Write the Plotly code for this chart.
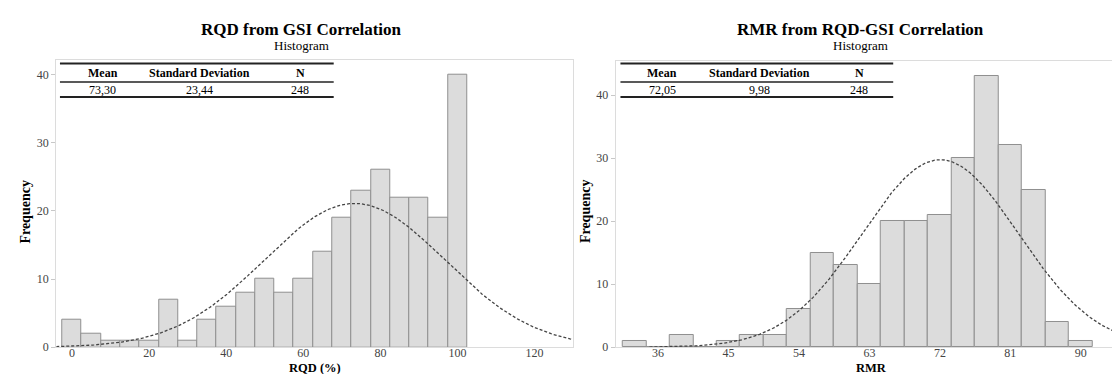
import math
import plotly.graph_objects as go

# ---------------- data ----------------
rqd_bin_centers = [0, 5, 10, 15, 20, 25, 30, 35, 40, 45, 50, 55, 60, 65, 70, 75, 80, 85, 90, 95, 100]
rqd_counts = [4, 2, 1, 1, 1, 7, 1, 4, 6, 8, 10, 8, 10, 14, 19, 23, 26, 22, 22, 19, 40]
rqd_bin_width = 5
rqd_mean, rqd_sd, rqd_n = 73.30, 23.44, 248
rqd_xticks = [0, 20, 40, 60, 80, 100, 120]

rmr_bin_centers = [33, 36, 39, 42, 45, 48, 51, 54, 57, 60, 63, 66, 69, 72, 75, 78, 81, 84, 87, 90]
rmr_counts = [1, 0, 2, 0, 1, 2, 2, 6, 15, 13, 10, 20, 20, 21, 30, 43, 32, 25, 4, 1]
rmr_bin_width = 3
rmr_mean, rmr_sd, rmr_n = 72.05, 9.98, 248
rmr_xticks = [36, 45, 54, 63, 72, 81, 90]

y_ticks = [0, 10, 20, 30, 40]

titles = ["RQD from GSI Correlation", "RMR from RQD-GSI Correlation"]
subtitle = "Histogram"
x_titles = ["RQD (%)", "RMR"]
y_title = "Frequency"
table_headers = ["Mean", "Standard Deviation", "N"]
rqd_table = ["73,30", "23,44", "248"]
rmr_table = ["72,05", "9,98", "248"]

# ---------------- layout helpers ----------------
W, H = 1120, 374
def px(x):
    return x / W
def py(y):
    return 1 - y / H

SERIF = "Liberation Serif, Times New Roman, serif"

def normal_curve(mean, sd, n, bw, x0, x1, steps=300):
    xs, ys = [], []
    for i in range(steps + 1):
        x = x0 + (x1 - x0) * i / steps
        xs.append(x)
        ys.append(n * bw / (sd * math.sqrt(2 * math.pi)) * math.exp(-0.5 * ((x - mean) / sd) ** 2))
    return xs, ys

fig = go.Figure()

bar_style = dict(marker=dict(color="#dcdcdc", line=dict(color="#8f8f8f", width=1)), showlegend=False, hoverinfo="x+y")
curve_style = dict(mode="lines", line=dict(color="#444444", width=1.3, dash="3px,2px"), showlegend=False, hoverinfo="skip")

fig.add_trace(go.Bar(x=rqd_bin_centers, y=rqd_counts, width=rqd_bin_width, xaxis="x", yaxis="y", **bar_style))
cx, cy = normal_curve(rqd_mean, rqd_sd, rqd_n, rqd_bin_width, -4.1, 130.1)
fig.add_trace(go.Scatter(x=cx, y=cy, xaxis="x", yaxis="y", **curve_style))

fig.add_trace(go.Bar(x=rmr_bin_centers, y=rmr_counts, width=rmr_bin_width, xaxis="x2", yaxis="y2", **bar_style))
cx2, cy2 = normal_curve(rmr_mean, rmr_sd, rmr_n, rmr_bin_width, 34.9, 97)
fig.add_trace(go.Scatter(x=cx2, y=cy2, xaxis="x2", yaxis="y2", **curve_style))

axis_common = dict(showgrid=False, zeroline=False, showline=True, mirror=True, linecolor="#dcdcdc", linewidth=1,
                   tickfont=dict(family=SERIF, size=12, color="#444444"))

# panel geometry (pixels)
L1, R1, T1, B1 = 48.3, 566.0, 52.7, 345.7
L2, R2, T2, B2 = 608.3, 1120.0, 54.0, 345.7

fig.update_layout(
    width=W, height=H, margin=dict(l=0, r=0, t=0, b=0),
    paper_bgcolor="white", plot_bgcolor="white", bargap=0,
    xaxis=dict(domain=[px(L1), px(R1)], range=[-4.1, 130.1], tickvals=rqd_xticks, ticks="", ticklabelstandoff=-6,
               anchor="y", **axis_common),
    yaxis=dict(domain=[py(B1), py(T1)], range=[0, 42.2], tickvals=y_ticks, ticks="outside", ticklen=4, tickcolor="#c8c8c8",
               anchor="x", **axis_common),
    xaxis2=dict(domain=[px(L2), px(R2)], range=[30.6, 95.9], tickvals=rmr_xticks, ticks="", ticklabelstandoff=-6,
                anchor="y2", **axis_common),
    yaxis2=dict(domain=[py(B2), py(T2)], range=[0, 45.4], tickvals=y_ticks, ticks="outside", ticklen=4, tickcolor="#c8c8c8",
                anchor="x2", **axis_common),
)

annotations = []
shapes = []

def text(x, y, s, size=12, bold=False, angle=0, color="black"):
    annotations.append(dict(x=px(x), y=py(y), xref="paper", yref="paper", text=f"<b>{s}</b>" if bold else s,
                            showarrow=False, textangle=angle, xanchor="center", yanchor="middle",
                            font=dict(family=SERIF, size=size, color=color)))

def hline(x0, x1, y, w):
    shapes.append(dict(type="line", xref="paper", yref="paper", x0=px(x0), x1=px(x1), y0=py(y), y1=py(y),
                       line=dict(color="#222222", width=w)))

# titles
text(294, 22, titles[0], size=17, bold=True)
text(294, 38.5, subtitle, size=13)
text(853, 22, titles[1], size=17, bold=True)
text(853, 38.5, subtitle, size=13)

# axis titles
text(17.5, 207, y_title, size=14, bold=True, angle=-90)
text(577.5, 207, y_title, size=14, bold=True, angle=-90)
text(307, 366.5, x_titles[0], size=12.5, bold=True)
text(864, 366.5, x_titles[1], size=12.5, bold=True)

# stats tables
for (tl, tr, cols, vals) in [(52, 326, (95, 191.5, 292.5), rqd_table), (613, 886, (655, 752, 852), rmr_table)]:
    hline(tl, tr, 56.5, 2)
    hline(tl, tr, 75.5, 1.5)
    hline(tl, tr, 90.8, 2)
    for cxp, h, v in zip(cols, table_headers, vals):
        text(cxp, 66.5, h, size=12, bold=True)
        text(cxp, 83.5, v, size=12)

fig.update_layout(annotations=annotations, shapes=shapes)

fig.write_html("out.html")
